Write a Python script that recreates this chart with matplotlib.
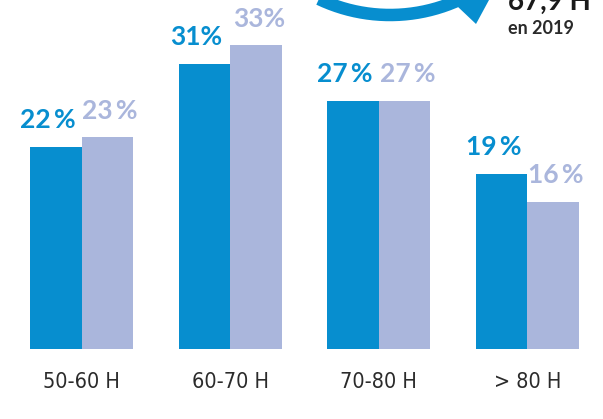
import numpy as np
import matplotlib
matplotlib.use("Agg")
import matplotlib.pyplot as plt
from matplotlib.patches import Polygon
import matplotlib.transforms as mtransforms
from matplotlib import font_manager

categories = ["50-60 H", "60-70 H", "70-80 H", "> 80 H"]
series_a = [22, 31, 27, 19]
series_b = [23, 33, 27, 16]
labels_a = ["22\u2009%", "31%", "27\u2009%", "19\u2009%"]
labels_b = ["23\u2009%", "33%", "27\u2009%", "16\u2009%"]

DARK = "#078ECF"
LIGHT = "#AAB6DC"

W, H = 603, 419
fig = plt.figure(figsize=(W / 100, H / 100), dpi=100)
fig.patch.set_facecolor("white")

base_px = 349
ax = fig.add_axes([0, (H - base_px) / H, 1, base_px / H])
ax.set_xlim(0, W)
ax.set_ylim(0, base_px / 9.2)
ax.axis("off")

start, step, bw = 81.5, 148.6, 51.5
x = start + step * np.arange(len(categories))
ax.bar(x - bw / 2, series_a, width=bw, color=DARK, linewidth=0)
ax.bar(x + bw / 2, series_b, width=bw, color=LIGHT, linewidth=0)

pct_font = dict(family=["Lato", "DejaVu Sans"], fontweight="bold", fontsize=19)
for xi, v, lab in zip(x - bw / 2 - 8, series_a, labels_a):
    ax.annotate(lab, (xi, v), xytext=(0, 13.5), textcoords="offset points",
                ha="center", va="baseline", color=DARK, **pct_font)
for xi, v, lab in zip(x + bw / 2 + 3, series_b, labels_b):
    ax.annotate(lab, (xi, v), xytext=(0, 13.5), textcoords="offset points",
                ha="center", va="baseline", color=LIGHT, **pct_font)

# condensed upright font for category labels if available
cond = [f for f in font_manager.fontManager.ttflist
        if f.name == "DejaVu Sans" and f.stretch == "condensed"
        and f.style == "normal" and f.weight in (400, "normal", "regular", "book")]
if cond:
    cat_kw = dict(fontproperties=font_manager.FontProperties(fname=cond[0].fname, size=15.5))
else:
    cat_kw = dict(fontsize=13, family=["DejaVu Sans"])

trans = mtransforms.blended_transform_factory(ax.transData, fig.transFigure)
for xi, cat in zip(x, categories):
    ax.text(xi, (H - 382) / H, cat, transform=trans, ha="center", va="center",
            color="#2b2b2b", **cat_kw)

# decorative circular arrow at top right (pixel overlay)
ov = fig.add_axes([0, 0, 1, 1], facecolor="none")
ov.set_xlim(0, W)
ov.set_ylim(H, 0)
ov.axis("off")
t = np.linspace(-0.62, 0.47, 200)
cx, cy, R = 390, -151, 166
ov.plot(cx + R * np.sin(t), cy + R * np.cos(t), color=DARK, lw=9,
        solid_capstyle="butt")
ov.add_patch(Polygon([(476, 24), (438, -12), (502, -24)], closed=True,
                     color=DARK, lw=0))

ov.text(508, 10, "67,9 H", fontsize=20, fontweight="bold", color="#1a1a1a",
        ha="left", va="baseline", family=["Lato", "DejaVu Sans"])
ov.text(508, 34, "en 2019", fontsize=13, fontweight="bold", color="#2a2a2a",
        ha="left", va="baseline", family=["Lato", "DejaVu Sans"])

fig.savefig("out.png", dpi=100)
